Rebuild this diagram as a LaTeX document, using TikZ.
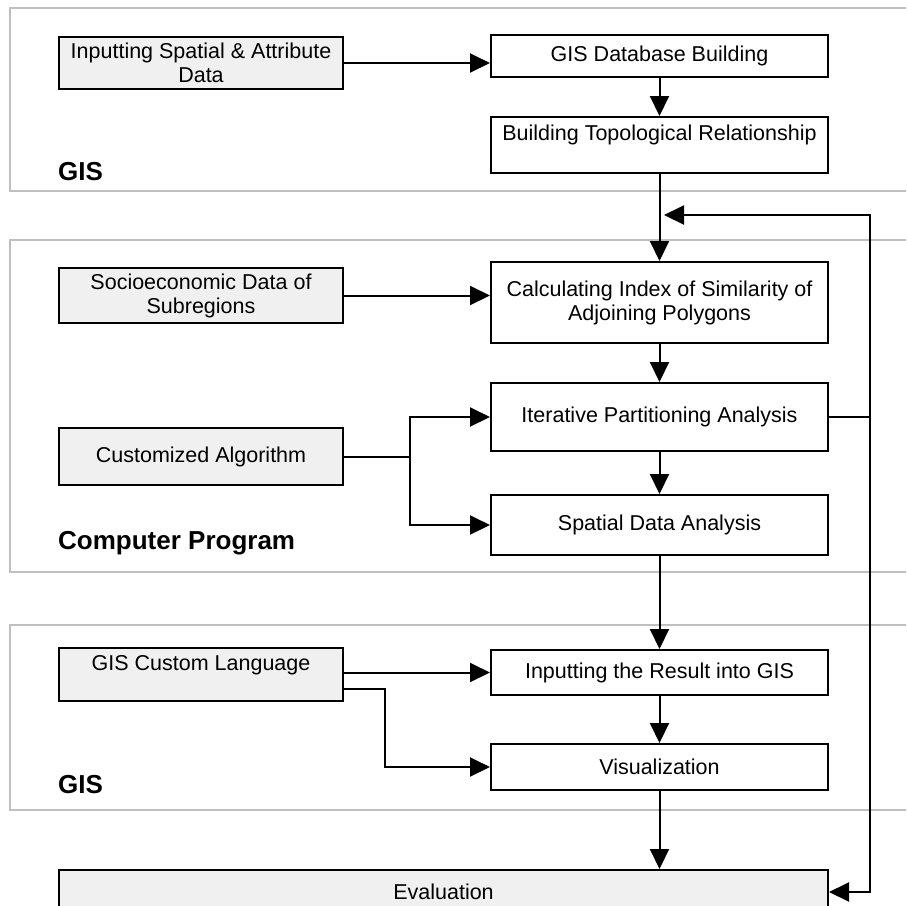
\documentclass[tikz,border=0pt]{standalone}
\usepackage{fontspec}
\setmainfont{Liberation Sans}
\usetikzlibrary{arrows.meta}
\newcommand\leftX{201}
\newcommand\rightX{659.5}
\newcommand\leftW{284}
\newcommand\rightW{337}
\newcommand\loopX{870}
\newcommand\panelL{10}
\newcommand\splitX{410}

\begin{document}
\begin{tikzpicture}[x=1pt, y=-1pt,
    inbox/.style={draw, line width=2pt, fill=black!6, minimum width=\leftW pt, align=center, inner sep=2pt, font=\fontsize{21.5}{24}\selectfont},
    stepbox/.style={draw, line width=2pt, fill=white, minimum width=\rightW pt, align=center, inner sep=2pt, font=\fontsize{21.5}{24}\selectfont},
    flow/.style={line width=2pt, -{Triangle[length=20pt, width=19pt]}},
    link/.style={line width=2pt},
    panel/.style={draw=black!25, line width=1.5pt},
    tag/.style={anchor=west, inner sep=0pt, font=\fontsize{26}{30}\selectfont\bfseries}]
    \useasboundingbox (0,0) rectangle (906,906);
    \clip (0,0) rectangle (906,906);

    \foreach \pTop/\pBot in {8/191, 240/572, 625/810}{
      \draw[panel] (950,\pTop) -| (\panelL,\pBot) -- (950,\pBot);
    }

    \node[tag] (gisTop) at (58,172) {GIS};
    \node[tag] (progTag) at (58,543) {Computer Program};
    \node[tag] (gisBot) at (58,785) {GIS};

    \node[inbox, minimum height=52pt] (inputData) at (\leftX,63) {Inputting Spatial \& Attribute\\Data};
    \node[stepbox, minimum height=42pt] (gisBase) at (\rightX,56) {GIS Database Building};
    \node[stepbox, minimum height=56pt] (topoRel) at (\rightX,145) {Building Topological Relationship\\ \mbox{}};

    \node[inbox, minimum height=55pt] (socioData) at (\leftX,295.5) {Socioeconomic Data of\\Subregions};
    \node[stepbox, minimum height=81pt] (simIndex) at (\rightX,302.5) {Calculating Index of Similarity of\\Adjoining Polygons};
    \node[stepbox, minimum height=68pt] (iterPart) at (\rightX,417) {Iterative Partitioning Analysis};
    \node[inbox, minimum height=57pt] (custAlg) at (\leftX,456.5) {Customized Algorithm};
    \node[stepbox, minimum height=60pt] (spatAna) at (\rightX,525) {Spatial Data Analysis};

    \node[inbox, minimum height=53pt] (gisLang) at (\leftX,674.5) {GIS Custom Language\\ \mbox{}};
    \node[stepbox, minimum height=45pt] (resultIn) at (\rightX,672.5) {Inputting the Result into GIS};
    \node[stepbox, minimum height=46pt] (visual) at (\rightX,767) {Visualization};

    \node[inbox, minimum width=769pt, minimum height=44pt] (evalBox) at (443.5,892) {Evaluation};

    \coordinate (loopTop) at (\loopX,215);
    \coordinate (loopTip) at (664,215);
    \coordinate (split) at (\splitX,456.5);

    \draw[flow] (inputData.east) -- (inputData.east -| gisBase.west);
    \draw[flow] (gisBase.south) -- (topoRel.north);
    \draw[flow] (topoRel.south) -- (simIndex.north);
    \draw[flow] (socioData.east) -- (socioData.east -| simIndex.west);
    \draw[flow] (simIndex.south) -- (iterPart.north);
    \draw[flow] (iterPart.south) -- (spatAna.north);
    \draw[link] (custAlg.east) -- (split);
    \draw[flow] (split) |- (iterPart.west);
    \draw[flow] (split) |- (spatAna.west);
    \draw[flow] (spatAna.south) -- (resultIn.north);
    \draw[flow] (resultIn.west -| gisLang.east) -- (resultIn.west);
    \draw[flow] ([yshift=13pt]gisLang.south east) -- ++(41,0) |- (visual.west);
    \draw[flow] (resultIn.south) -- (visual.north);
    \draw[flow] (visual.south) -- (visual.south |- evalBox.north);

    \draw[link] (iterPart.east) -- (iterPart.east -| loopTop);
    \draw[flow] (iterPart.east -| loopTop) -- (loopTop) -- (loopTip);
    \draw[flow] (iterPart.east -| loopTop) |- (evalBox.east);

  \end{tikzpicture}
\end{document}
